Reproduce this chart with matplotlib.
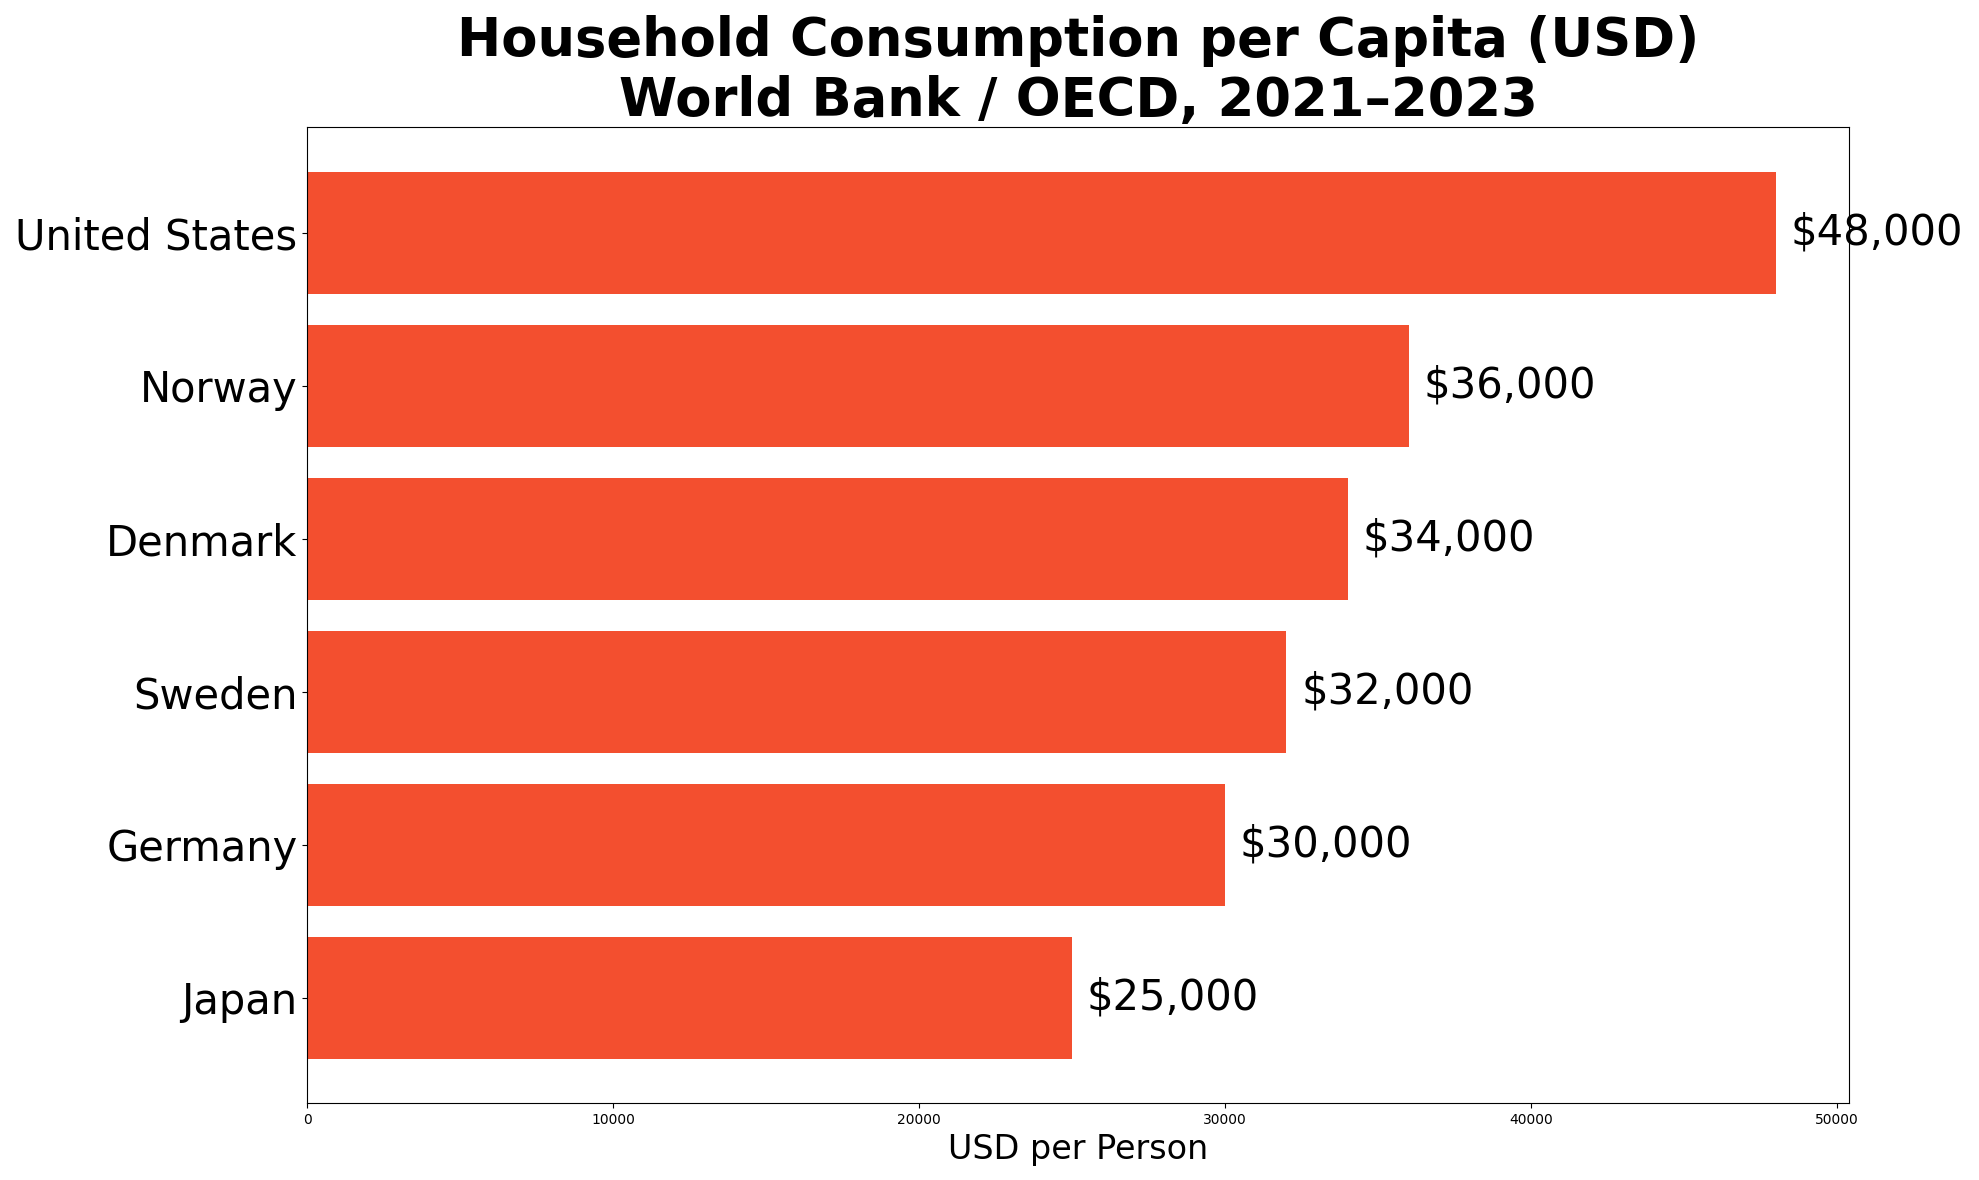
import matplotlib
matplotlib.use("Agg")
import matplotlib.pyplot as plt

countries = ["United States", "Norway", "Denmark", "Sweden", "Germany", "Japan"]
values = [48000, 36000, 34000, 32000, 30000, 25000]

bar_color = "#F34F2F"

fig = plt.figure(figsize=(19.79, 11.8), dpi=100)
ax = fig.add_axes([0.1553, 0.0650, 0.7792, 0.8271])

ax.barh(countries, values, color=bar_color, height=0.8)
ax.invert_yaxis()
ax.set_xlim(0, max(values) * 1.05)

for i, v in enumerate(values):
    ax.text(v + max(values) * 0.01, i, f"${v:,.0f}", va="center", ha="left", fontsize=30)

ax.tick_params(axis="y", labelsize=30)
ax.tick_params(axis="x", labelsize=10)
ax.set_xlabel("USD per Person", fontsize=24)
ax.set_title("Household Consumption per Capita (USD)\nWorld Bank / OECD, 2021–2023",
             fontsize=38, fontweight="bold")

fig.savefig("out.png", dpi=100)
